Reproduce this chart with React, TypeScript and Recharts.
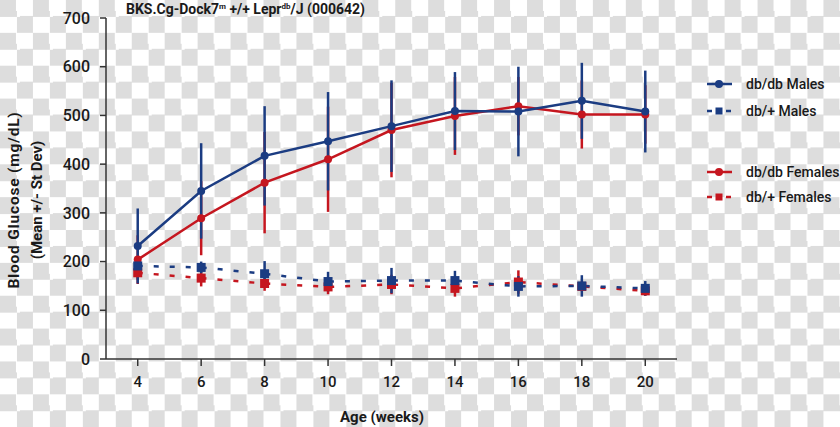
import React from "react";
import { LineChart, Line, XAxis, YAxis, ErrorBar } from "recharts";

const weeks = [4, 6, 8, 10, 12, 14, 16, 18, 20];
const dbdbMales = [232, 345, 417, 447, 478, 509, 508, 530, 508];
const dbdbMalesSd = [77, 98, 102, 101, 94, 80, 92, 78, 84];
const dbhetMales = [191, 188, 175, 159, 161, 161, 149, 150, 145];
const dbhetMalesSd = [18, 12, 26, 20, 26, 20, 21, 22, 15];
const dbdbFemales = [204, 289, 362, 410, 470, 499, 519, 502, 502];
const dbdbFemalesSd = [50, 76, 104, 108, 97, 80, 60, 70, 60];
const dbhetFemales = [177, 166, 155, 148, 153, 145, 158, 149, 140];
const dbhetFemalesSd = [14, 17, 15, 15, 20, 17, 24, 10, 10];

const xTicks = [4, 6, 8, 10, 12, 14, 16, 18, 20];
const yTicks = [0, 100, 200, 300, 400, 500, 600, 700];
const seriesNames = ["db/db Males", "db/+ Males", "db/db Females", "db/+ Females"];

const BLUE = "#1b3c82";
const RED = "#c5161f";
const FONT = "Roboto, 'DejaVu Sans', sans-serif";

const data = weeks.map((w, i) => ({
  week: w,
  mdb: dbdbMales[i],
  mdbSd: dbdbMalesSd[i],
  mhet: dbhetMales[i],
  mhetSd: dbhetMalesSd[i],
  fdb: dbdbFemales[i],
  fdbSd: dbdbFemalesSd[i],
  fhet: dbhetFemales[i],
  fhetSd: dbhetFemalesSd[i],
}));

const makeSquare = (color: string) => (props: any) => {
  const { cx, cy, index } = props;
  if (cx == null || cy == null) return <g key={`s-${index}`} />;
  return <rect key={`s-${color}-${index}`} x={cx - 4.5} y={cy - 4.5} width={9} height={9} fill={color} />;
};

const LegendBox = () => {
  const items = [
    { name: seriesNames[0], color: BLUE, dashed: false, y: 14 },
    { name: seriesNames[1], color: BLUE, dashed: true, y: 41 },
    { name: seriesNames[2], color: RED, dashed: false, y: 102 },
    { name: seriesNames[3], color: RED, dashed: true, y: 127 },
  ];
  return (
    <svg width={140} height={150} style={{ position: "absolute", left: 700, top: 70, overflow: "visible" }}>
      {items.map((it) => (
        <g key={it.name}>
          {it.dashed ? (
            <>
              <line x1={7} x2={12} y1={it.y} y2={it.y} stroke={it.color} strokeWidth={2.5} />
              <rect x={15.5} y={it.y - 3.5} width={7} height={7} fill={it.color} />
              <line x1={26} x2={31} y1={it.y} y2={it.y} stroke={it.color} strokeWidth={2.5} />
            </>
          ) : (
            <>
              <line x1={7} x2={32} y1={it.y} y2={it.y} stroke={it.color} strokeWidth={2.5} />
              <circle cx={19} cy={it.y} r={4} fill={it.color} />
            </>
          )}
          <text x={46} y={it.y} dy="0.35em" fontSize={14} fontFamily={FONT} fontWeight={500} fill="#1a1a1a">
            {it.name}
          </text>
        </g>
      ))}
    </svg>
  );
};

const labelStyle: React.CSSProperties = {
  position: "absolute",
  fontSize: 15,
  fontWeight: 700,
  whiteSpace: "nowrap",
  color: "#1a1a1a",
};

export default function App() {
  return (
    <div
      style={{
        position: "absolute",
        left: 0,
        top: 0,
        width: 840,
        height: 427,
        overflow: "hidden",
        fontFamily: FONT,
        backgroundColor: "#ffffff",
        backgroundImage: "repeating-conic-gradient(#ffffff 0% 25%, #dddddd 0% 50%)",
        backgroundSize: "32.94px 32.86px",
      }}
    >
      <div
        style={{
          position: "absolute",
          left: 126,
          top: -2,
          fontSize: 14,
          fontWeight: 700,
          lineHeight: "18px",
          color: "#1a1a1a",
          whiteSpace: "nowrap",
        }}
      >
        BKS.Cg-Dock7<sup style={{ fontSize: 8, verticalAlign: "5px" }}>m</sup> +/+ Lepr
        <sup style={{ fontSize: 8, verticalAlign: "5px" }}>db</sup>/J (000642)
      </div>
      <div
        style={{
          ...labelStyle,
          fontSize: 15.5,
          letterSpacing: 0.8,
          left: 14,
          top: 200,
          transform: "translate(-50%, -50%) rotate(-90deg)",
        }}
      >
        Blood Glucose (mg/dL)
      </div>
      <div style={{ ...labelStyle, left: 37, top: 200, transform: "translate(-50%, -50%) rotate(-90deg)" }}>
        (Mean +/- St Dev)
      </div>
      <div style={{ ...labelStyle, left: 382, top: 417, transform: "translate(-50%, -50%)" }}>Age (weeks)</div>
      <LineChart
        width={840}
        height={427}
        data={data}
        margin={{ top: 18, right: 163, bottom: 38, left: 46 }}
        style={{ position: "absolute", left: 0, top: 0 }}
      >
        <XAxis
          dataKey="week"
          type="number"
          domain={[3, 21]}
          ticks={xTicks}
          height={30}
          tickSize={7}
          tickMargin={10}
          stroke="#333"
          strokeWidth={1.5}
          tick={{ fill: "#1a1a1a", fontSize: 15, fontFamily: FONT, fontWeight: 500 }}
        />
        <YAxis
          type="number"
          domain={[0, 700]}
          ticks={yTicks}
          width={60}
          tickSize={6}
          tickMargin={10}
          stroke="#333"
          strokeWidth={1.5}
          tick={{ fill: "#1a1a1a", fontSize: 16, fontFamily: FONT, fontWeight: 500 }}
        />
        <Line
          dataKey="fdb"
          name={seriesNames[2]}
          stroke={RED}
          strokeWidth={2.5}
          dot={{ r: 4, fill: RED, stroke: RED, strokeWidth: 0 }}
          isAnimationActive={false}
        >
          <ErrorBar dataKey="fdbSd" direction="y" width={0} stroke={RED} strokeWidth={2.5} />
        </Line>
        <Line
          dataKey="fhet"
          name={seriesNames[3]}
          stroke={RED}
          strokeWidth={2.5}
          strokeDasharray="5 11"
          dot={makeSquare(RED)}
          isAnimationActive={false}
        >
          <ErrorBar dataKey="fhetSd" direction="y" width={0} stroke={RED} strokeWidth={2.5} />
        </Line>
        <Line
          dataKey="mhet"
          name={seriesNames[1]}
          stroke={BLUE}
          strokeWidth={2.5}
          strokeDasharray="5 11"
          dot={makeSquare(BLUE)}
          isAnimationActive={false}
        >
          <ErrorBar dataKey="mhetSd" direction="y" width={0} stroke={BLUE} strokeWidth={2.5} />
        </Line>
        <Line
          dataKey="mdb"
          name={seriesNames[0]}
          stroke={BLUE}
          strokeWidth={2.5}
          dot={{ r: 4, fill: BLUE, stroke: BLUE, strokeWidth: 0 }}
          isAnimationActive={false}
        >
          <ErrorBar dataKey="mdbSd" direction="y" width={0} stroke={BLUE} strokeWidth={2.5} />
        </Line>
      </LineChart>
      <LegendBox />
    </div>
  );
}
